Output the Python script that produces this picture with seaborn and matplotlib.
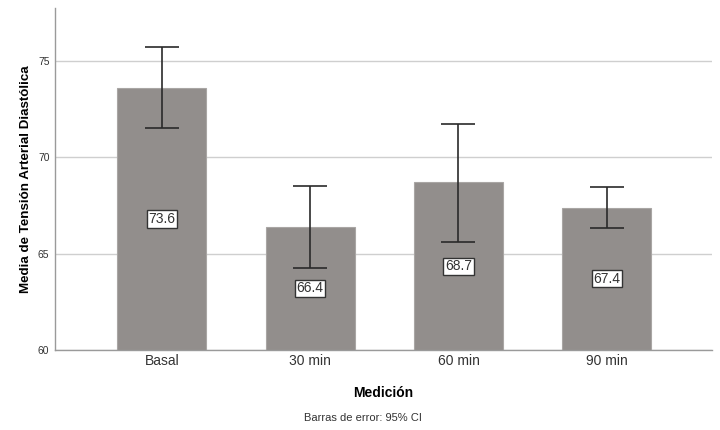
import matplotlib
matplotlib.use("Agg")
import matplotlib.pyplot as plt
import seaborn as sns
import pandas as pd

categories = ["Basal", "30 min", "60 min", "90 min"]
means = [73.6, 66.4, 68.7, 67.4]
ci_low = [71.52, 64.26, 65.6, 66.33]
ci_high = [75.72, 68.51, 71.73, 68.46]
y_ticks = [60, 65, 70, 75]

sns.set_theme(style="white")
plt.rcParams["font.family"] = ["Liberation Sans", "DejaVu Sans"]

df = pd.DataFrame({"Medición": categories, "Media": means})

fig = plt.figure(figsize=(7.2, 4.3), dpi=100)
ax = fig.add_axes([0.0764, 0.186, 0.9126, 0.795])

sns.barplot(data=df, x="Medición", y="Media", color="#928e8c", saturation=1,
            width=0.6, errorbar=None, ax=ax, edgecolor="#a9a6a4", linewidth=0.8, zorder=2)

xs = list(range(len(categories)))
lower = [m - lo for m, lo in zip(means, ci_low)]
upper = [hi - m for m, hi in zip(means, ci_high)]
ax.errorbar(xs, means, yerr=[lower, upper], fmt="none", ecolor="#2a2a2a",
            elinewidth=1.2, capsize=12, capthick=1.2, zorder=3)

for x, m in zip(xs, means):
    ax.text(x, (60 + m) / 2, f"{m:.1f}", ha="center", va="center", fontsize=10,
            color="#333333", zorder=4,
            bbox=dict(boxstyle="square,pad=0.12", facecolor="white", edgecolor="#333333", linewidth=1))

ax.set_ylim(60, 77.75)
ax.set_xlim(-0.72, 3.71)
ax.set_yticks(y_ticks)
ax.set_yticklabels([str(t) for t in y_ticks], fontsize=7.5, color="#333333")
ax.tick_params(axis="x", labelsize=10, colors="#333333", length=0, pad=3)
ax.tick_params(axis="y", length=0, pad=4)
ax.yaxis.grid(True, color="#cfcfcf", linewidth=1, zorder=0)
ax.set_axisbelow(True)
for s in ["top", "right"]:
    ax.spines[s].set_visible(False)
for s in ["left", "bottom"]:
    ax.spines[s].set_color("#9a9a9a")
    ax.spines[s].set_linewidth(1)

ax.set_xlabel("Medición", fontsize=10, fontweight="bold", color="black", labelpad=13)
ax.set_ylabel("Media de Tensión Arterial Diastólica", fontsize=9.6, fontweight="bold",
              color="black", labelpad=4)

fig.text(0.504, 0.028, "Barras de error: 95% CI", ha="center", va="center", fontsize=8, color="#333333")

fig.savefig("out.png", dpi=100)
